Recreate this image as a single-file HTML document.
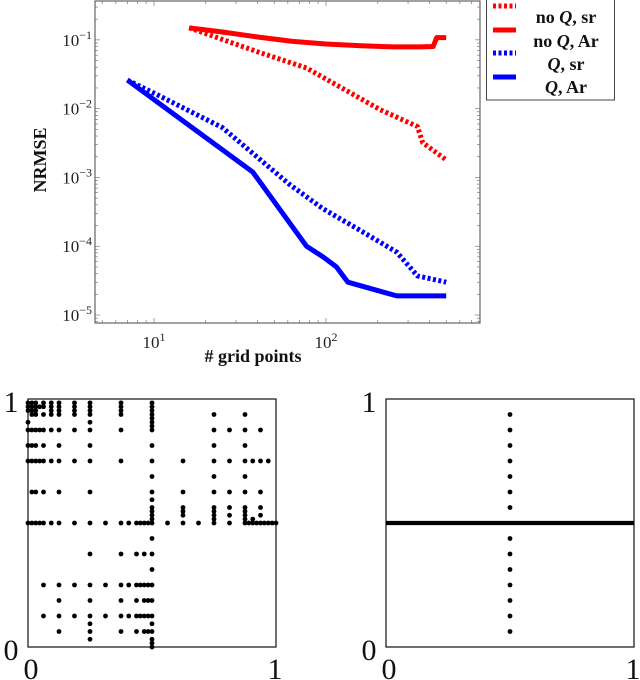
<!DOCTYPE html>
<html><head><meta charset="utf-8">
<style>
html,body{margin:0;padding:0;background:#fff;}
svg{display:block;}
text{font-family:"Liberation Serif","DejaVu Serif",serif;}
</style></head>
<body>
<svg id="root" width="640" height="680" viewBox="0 0 640 680">
  <g id="topchart"></g>
  <g id="legend"></g>
  <g id="left"></g>
  <g id="right"></g>
</svg>
<script>
// ---------- data: error chart ----------
const redSolidX = [16, 25, 40, 64, 100, 160, 250, 350, 420, 440, 500];
const redSolidY = [0.15, 0.13, 0.11, 0.095, 0.087, 0.082, 0.079, 0.079, 0.08, 0.108, 0.108];
const redDotX = [16, 40, 77, 206, 340, 365, 500];
const redDotY = [0.15, 0.067, 0.039, 0.0097, 0.0055, 0.0032, 0.0018];
const blueSolidX = [7, 37.5, 77, 96, 115, 134, 258, 500];
const blueSolidY = [0.026, 0.0012, 1e-4, 7e-5, 5e-5, 3e-5, 1.9e-5, 1.9e-5];
const blueDotX = [7, 10.4, 25, 61, 96, 152, 258, 340, 500];
const blueDotY = [0.026, 0.016, 0.0053, 8e-4, 3.5e-4, 1.8e-4, 8.2e-5, 3.7e-5, 3e-5];
const xTickExp = [1, 2];
const yTickExp = [-1, -2, -3, -4, -5];
const legendLabels = ["no Q, sr", "no Q, Ar", "Q, sr", "Q, Ar"];

// ---------- data: sparse grids (units of 1/16) ----------
const gridRows = [
  [15, [0.25,0.5,1,1.5,2,3,4,6,8,12,14]],
  [14, [0,0.25,0.5,0.75,1,1.5,2,3,4,6,8,12,13,14,15]],
  [13, [0,0.25,0.5,1,2,4,8,12,14]],
  [12, [0,0.25,0.5,0.75,1,1.5,2,3,4,6,8,10,12,13,14,14.5,15,15.5]],
  [11, [8,12,14]],
  [10, [0.25,0.5,1,2,4,8,10,12,13,14,15]],
  [9, [8,10,12,13,14,15]],
  [8.5, [8,10,12,13,14,15]],
  [8.25, [8,12,14,14.5]],
  [8.75, [8,10,12,14]],
  [8, [0,0.25,0.5,0.75,1,1.5,2,3,4,5,6,6.5,7,7.25,7.5,7.75,8,9,10,11,12,13,14,14.25,14.5,14.75,15,15.25,15.5,15.75,16]],
  [7, [8]],
  [6, [4,6,7,7.5,8]],
  [5, [8]],
  [4, [1,2,3,4,5,6,6.5,7,7.25,7.5,7.75,8]],
  [3, [2,4,6,7,7.5,7.75,8]],
  [2, [1,2,3,4,5,6,6.5,7,7.25,7.5,7.75,8]],
  [1.5, [4,8]],
  [1, [2,4,6,7,7.5,7.75,8]],
  [0.5, [4,8]],
  [0.25, [8]],
  [0, [8]],
  [15.25, [0,0.25,0.5,1.5,2,3,4,6,8]],
  [15.5, [0,0.25,0.5,0.75,1,1.5,2,3,4,6,8]],
  [15.75, [0,0.25,0.5,1,1.5,2,3,4,6,8]],
  [14.5, [0,4,8]],
  [14.25, [8]],
  [14.75, [8]],
  [9.5, [8]]
];
const rightColX = 8;
const rightColY = [1,2,3,4,5,6,7,9,10,11,12,13,14,15];
const rightLineY = 8;

const NS = "http://www.w3.org/2000/svg";
function mk(tag, attrs, parent){const e=document.createElementNS(NS,tag);for(const k in attrs)e.setAttribute(k,attrs[k]);parent.appendChild(e);return e;}

// ---------- top chart ----------
const topG = document.getElementById('topchart');
const PL=95, PR=480, PT=1, PB=323;
const xLogMin = 1-(154-PL)/172, xLogMax = 2+(PR-326)/172;
const yLogMax = -1+(40-PT)/69, yLogMin = -5-(PB-315)/69;
function sx(v){return PL+(Math.log10(v)-xLogMin)/(xLogMax-xLogMin)*(PR-PL);}
function sy(v){return PB-(Math.log10(v)-yLogMin)/(yLogMax-yLogMin)*(PB-PT);}

let fr0 = mk('rect',{x:PL,y:PT,width:PR-PL,height:PB-PT,fill:'none',stroke:'#444','stroke-width':1},topG);


for(let d=0; d<=3; d++){
  for(let m=1;m<10;m++){
    const v=m*Math.pow(10,d); const x=sx(v);
    if(x<PL||x>PR) continue;
    const len = m===1?5:3;
    mk('line',{x1:x,x2:x,y1:PB,y2:PB-len,stroke:'#666','stroke-width':0.6},topG);
    mk('line',{x1:x,x2:x,y1:PT,y2:PT+len,stroke:'#666','stroke-width':0.6},topG);
  }
}
for(let d=-6; d<=0; d++){
  for(let m=1;m<10;m++){
    const v=m*Math.pow(10,d); const y=sy(v);
    if(y<PT||y>PB) continue;
    const len = m===1?5:3;
    mk('line',{x1:PL,x2:PL+len,y1:y,y2:y,stroke:'#666','stroke-width':0.6},topG);
    mk('line',{x1:PR,x2:PR-len,y1:y,y2:y,stroke:'#666','stroke-width':0.6},topG);
  }
}
xTickExp.forEach(e=>{
  const t=mk('text',{x:sx(Math.pow(10,e)),y:PB+25,'font-size':17,'text-anchor':'middle',fill:'#222'},topG);
  t.innerHTML='10<tspan dy="-7" font-size="12">'+e+'</tspan>';
  
  
});
yTickExp.forEach(e=>{
  const t=mk('text',{x:PL-3,y:sy(Math.pow(10,e))+6,'font-size':17,'text-anchor':'end',fill:'#222'},topG);
  t.innerHTML='10<tspan dy="-7" font-size="12">\u2212'+Math.abs(e)+'</tspan>';
  
  
});
let xt = mk('text',{x:253,y:362,'font-size':18,'font-weight':'bold','text-anchor':'middle',fill:'#111'},topG);
xt.textContent='# grid points';


let yt = mk('text',{x:0,y:0,'font-size':18,'font-weight':'bold','text-anchor':'middle',fill:'#111',transform:'translate(46,160) rotate(-90)'},topG);
yt.textContent='NRMSE';



function series(xs, ys, color, dashed, name){
  const d = xs.map((x,i)=>(i?'L':'M')+sx(x).toFixed(1)+' '+sy(ys[i]).toFixed(1)).join(' ');
  const p = mk('path',{d:d,fill:'none',stroke:color,'stroke-width':5,'stroke-linejoin':'round'},topG);
  if(dashed) p.setAttribute('stroke-dasharray','3 2.5');
  
  
}
series(redDotX, redDotY, '#ff0000', true, 'series-no-q-sr');
series(redSolidX, redSolidY, '#ff0000', false, 'series-no-q-ar');
series(blueDotX, blueDotY, '#0000ff', true, 'series-q-sr');
series(blueSolidX, blueSolidY, '#0000ff', false, 'series-q-ar');

// ---------- legend ----------
const lg = document.getElementById('legend');
mk('rect',{x:486.5,y:-1,width:128,height:101,fill:'#fff',stroke:'#444','stroke-width':1},lg);
const lcols=['#ff0000','#ff0000','#0000ff','#0000ff'];
const ldash=[true,false,true,false];
const lineY=[6,30,53,77], textY=[23,47,70,93];
legendLabels.forEach((lab,i)=>{
  const l=mk('line',{x1:493,x2:516,y1:lineY[i],y2:lineY[i],stroke:lcols[i],'stroke-width':5},lg);
  if(ldash[i]) l.setAttribute('stroke-dasharray','3 2.5');
  
  
  const t=mk('text',{x:566,y:textY[i],'font-size':18,'font-weight':'bold','text-anchor':'middle',fill:'#111'},lg);
  t.innerHTML=lab.replace('Q','<tspan font-style="italic">Q</tspan>');
  
  
});

// ---------- bottom panels ----------
function panel(g, X0, name){
  const Y0=399, S=248;
  const fr=mk('rect',{x:X0,y:Y0,width:S,height:S,fill:'none',stroke:'#222','stroke-width':1.3},g);
  
  
  const labs=[['1',X0-17,Y0+13],['0',X0-17,Y0+S+13],['0',X0+3,Y0+S+32],['1',X0+S-1,Y0+S+32]];
  labs.forEach(a=>{
    const t=mk('text',{x:a[1],y:a[2],'font-size':30,'text-anchor':'middle',fill:'#111'},g);
    t.textContent=a[0];
    
    
  });
  return {px:i=>X0+i/16*S, py:j=>Y0+S-j/16*S};
}
const lgp = document.getElementById('left');
const LP = panel(lgp, 28, 'left-panel');
gridRows.forEach(row=>{
  row[1].forEach(i=>{
    const c=mk('circle',{cx:LP.px(i),cy:LP.py(row[0]),r:2.4,fill:'#000'},lgp);
    
    
  });
});
const Rg = document.getElementById('right');
const RP = panel(Rg, 386, 'right-panel');
const hl=mk('line',{x1:RP.px(0),x2:RP.px(16),y1:RP.py(rightLineY),y2:RP.py(rightLineY),stroke:'#000','stroke-width':4.2},Rg);


rightColY.forEach(j=>{
  const c=mk('circle',{cx:RP.px(rightColX),cy:RP.py(j),r:2.4,fill:'#000'},Rg);
  
  
});
</script>
</body></html>
